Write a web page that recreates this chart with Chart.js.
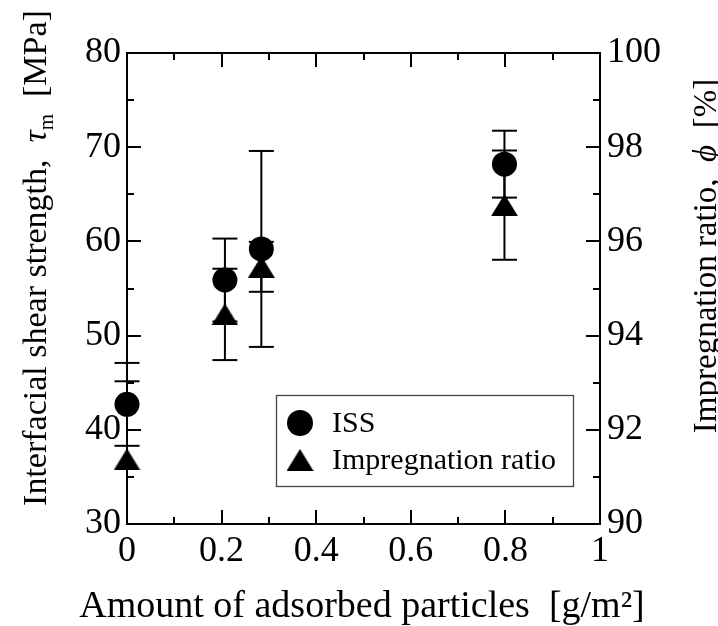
<!DOCTYPE html>
<html>
<head>
<meta charset="utf-8">
<script src="https://cdn.jsdelivr.net/npm/chart.js@4.4.1/dist/chart.umd.min.js"></script>
<style>
html,body{margin:0;padding:0;background:#fff;overflow:hidden}
canvas{display:block}
</style>
</head>
<body>
<canvas id="c" width="718" height="626"></canvas>
<script>
/* ── DATA ── */
const particles = [0, 0.207, 0.284, 0.798];        // g/m2
const issVals   = [42.7, 55.9, 59.2, 68.2];         // MPa
const issErr    = [4.4, 4.4, 10.4, 3.55];
const impVals   = [91.37, 94.45, 95.46, 96.77];     // %
const impErr    = [1.66, 0.97, 0.53, 1.16];
const xTicks    = [0, 0.2, 0.4, 0.6, 0.8, 1];
const yTicks    = [30, 40, 50, 60, 70, 80];
const y1Ticks   = [90, 92, 94, 96, 98, 100];
const seriesNames = ['ISS', 'Impregnation ratio'];
const xTitle = 'Amount of adsorbed particles  [g/m²]';
const yTitle = ['Interfacial shear strength,  ', 'τ', 'm', '  [MPa]'];
const y1Title = ['Impregnation ratio,  ', 'ϕ', '  [%]'];

const SERIF = "'Liberation Serif','Times New Roman',serif";

// filled triangle marker, centred on its box
function triImg(w, h) {
  const c = document.createElement('canvas');
  c.width = w; c.height = h;
  const g = c.getContext('2d');
  g.fillStyle = '#000';
  g.beginPath(); g.moveTo(w/2, 0); g.lineTo(w, h); g.lineTo(0, h); g.closePath(); g.fill();
  return c;
}
const TRI = triImg(27, 22);

/* ── helpers ── */
function line(ctx, x1, y1, x2, y2) { ctx.beginPath(); ctx.moveTo(x1, y1); ctx.lineTo(x2, y2); ctx.stroke(); }

function segText(ctx, segs, size) {
  // segs: [text, style] ; style: 'n' normal, 'i' italic, 's' subscript
  const fontOf = s => s==='i' ? `italic ${size}px ${SERIF}` : s==='s' ? `${Math.round(size*0.62)}px ${SERIF}` : `${size}px ${SERIF}`;
  let total = 0;
  segs.forEach(([t,s]) => { ctx.font = fontOf(s); total += ctx.measureText(t).width; });
  let x = -total/2;
  segs.forEach(([t,s]) => {
    ctx.font = fontOf(s);
    ctx.fillText(t, x, s==='s' ? size*0.2 : 0);
    x += ctx.measureText(t).width;
  });
}

/* ── frame, ticks, error bars, legend, titles ── */
const decor = {
  id: 'decor',
  beforeDatasetsDraw(chart) {
    const ctx = chart.ctx, {top, bottom} = chart.chartArea;
    const xs = chart.scales.x;
    ctx.save();
    ctx.strokeStyle = '#000'; ctx.lineWidth = 2;
    chart.data.datasets.forEach(ds => {
      const ys = chart.scales[ds.yAxisID];
      ds.data.forEach((p, i) => {
        const px = xs.getPixelForValue(p.x);
        const hi = ys.getPixelForValue(p.y + ds.err[i]);
        const lo = ys.getPixelForValue(p.y - ds.err[i]);
        line(ctx, px, Math.max(hi, top), px, Math.min(lo, bottom));
        if (hi >= top - 1) line(ctx, px - 12.5, hi, px + 12.5, hi);
        if (lo <= bottom + 1) line(ctx, px - 12.5, lo, px + 12.5, lo);
      });
    });
    ctx.restore();
  },
  afterDraw(chart) {
    const ctx = chart.ctx, {left, right, top, bottom} = chart.chartArea;
    const xs = chart.scales.x, ys = chart.scales.y, y1s = chart.scales.y1;
    ctx.save();
    ctx.strokeStyle = '#000'; ctx.lineWidth = 2;
    line(ctx, left - 1, top, right + 1, top);

    // inward ticks, major + minor
    for (let i = 0; i <= 10; i++) {
      const L = i % 2 ? 7 : 14;
      const px = Math.round(xs.getPixelForValue(i / 10));
      line(ctx, px, bottom, px, bottom - L);
      line(ctx, px, top, px, top + L);
      const py = Math.round(ys.getPixelForValue(30 + 5 * i));
      line(ctx, left, py, left + L, py);
      const py1 = Math.round(y1s.getPixelForValue(90 + i));
      line(ctx, right, py1, right - L, py1);
    }

    // legend box
    ctx.lineWidth = 1.3; ctx.strokeStyle = '#444';
    ctx.strokeRect(276.5, 395.5, 297, 91);
    ctx.fillStyle = '#000';
    ctx.beginPath(); ctx.arc(300, 423, 13, 0, Math.PI * 2); ctx.fill();
    ctx.drawImage(TRI, 300 - TRI.width / 2, 460 - TRI.height / 2);
    ctx.font = `30px ${SERIF}`; ctx.textBaseline = 'middle'; ctx.textAlign = 'left';
    ctx.fillText(chart.data.datasets[0].label, 332, 424);
    ctx.fillText(chart.data.datasets[1].label, 332, 461);

    // axis titles
    ctx.textBaseline = 'alphabetic';
    ctx.save(); ctx.translate(362, 617);
    segText(ctx, [[xTitle, 'n']], 38);
    ctx.restore();

    ctx.save(); ctx.translate(46, 258); ctx.rotate(-Math.PI / 2);
    segText(ctx, [[yTitle[0], 'n'], [yTitle[1], 'i'], [yTitle[2], 's'], [yTitle[3], 'n']], 34);
    ctx.restore();

    ctx.save(); ctx.translate(716, 256); ctx.rotate(-Math.PI / 2);
    segText(ctx, [[y1Title[0], 'n'], [y1Title[1], 'i'], [y1Title[2], 'n']], 33);
    ctx.restore();
    ctx.restore();
  }
};

const tickFont = { family: SERIF, size: 36 };
const fmt = v => String(+(+v).toFixed(2));

new Chart(document.getElementById('c'), {
  type: 'scatter',
  data: {
    datasets: [
      { label: seriesNames[0], yAxisID: 'y', err: issErr,
        data: particles.map((x, i) => ({ x, y: issVals[i] })),
        pointStyle: 'circle', pointRadius: 12.5, pointBorderWidth: 0,
        backgroundColor: '#000', borderColor: '#000', clip: false },
      { label: seriesNames[1], yAxisID: 'y1', err: impErr,
        data: particles.map((x, i) => ({ x, y: impVals[i] })),
        pointStyle: TRI, pointRadius: 13,
        backgroundColor: '#000', borderColor: '#000', clip: false }
    ]
  },
  options: {
    responsive: false,
    animation: false,
    devicePixelRatio: 1,
    layout: { padding: { top: 53, left: 0, right: 0, bottom: 0 } },
    plugins: { legend: { display: false }, tooltip: { enabled: false } },
    scales: {
      x: {
        type: 'linear', position: 'bottom', min: 0, max: 1,
        afterBuildTicks: s => { s.ticks = xTicks.map(v => ({ value: v })); },
        afterFit: s => { s.height = 102; },
        grid: { display: false, drawTicks: false },
        border: { display: true, color: '#000', width: 2 },
        ticks: { color: '#000', font: tickFont, padding: 6, maxRotation: 0, callback: fmt }
      },
      y: {
        type: 'linear', position: 'left', min: 30, max: 80,
        afterBuildTicks: s => { s.ticks = yTicks.map(v => ({ value: v })); },
        afterFit: s => { s.width = 127; },
        grid: { display: false, drawTicks: false },
        border: { display: true, color: '#000', width: 2 },
        ticks: { color: '#000', font: tickFont, padding: 6, callback: fmt }
      },
      y1: {
        type: 'linear', position: 'right', min: 90, max: 100,
        afterBuildTicks: s => { s.ticks = y1Ticks.map(v => ({ value: v })); },
        afterFit: s => { s.width = 118; },
        grid: { display: false, drawTicks: false },
        border: { display: true, color: '#000', width: 2 },
        ticks: { color: '#000', font: tickFont, padding: 7, callback: fmt }
      }
    }
  },
  plugins: [decor]
});
</script>
</body>
</html>
